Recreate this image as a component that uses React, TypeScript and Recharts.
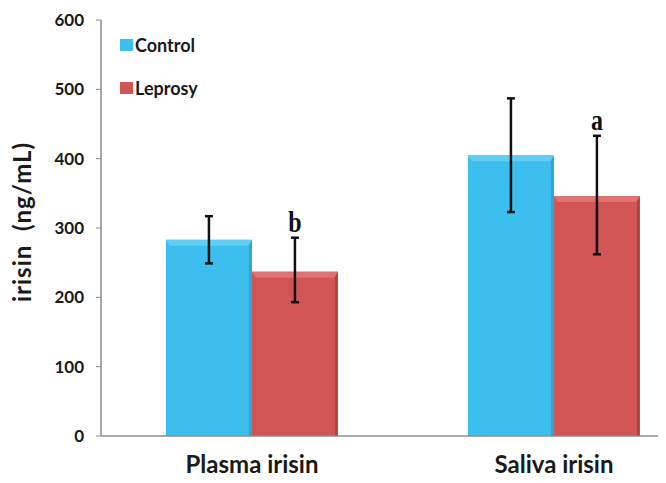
import React from "react";
import { BarChart, Bar, XAxis, YAxis, ErrorBar, Legend, LabelList } from "recharts";

const categories = ["Plasma irisin", "Saliva irisin"];
const controlValues = [283, 405];
const leprosyValues = [237, 346];
const controlErr: [number, number][] = [[34, 34], [82, 82]];
const leprosyErr: [number, number][] = [[44, 49], [84, 87]];
const sigLetters = ["b", "a"];
const yTicks = [0, 100, 200, 300, 400, 500, 600];

const data = categories.map((c, i) => ({
  name: c,
  Control: controlValues[i],
  Leprosy: leprosyValues[i],
  cErr: controlErr[i],
  lErr: leprosyErr[i],
}));

const FONT = "Lato, 'Open Sans', sans-serif";

const makeShape = (main: string, light: string, dark: string) => (props: any) => {
  const { x, y, width, height } = props;
  if (!height || height <= 0) return null;
  const band = 6;
  return (
    <g>
      <rect x={x} y={y} width={width} height={height} fill={main} />
      <polygon
        points={`${x},${y} ${x + width},${y} ${x + width - 4},${y + band} ${x + 4},${y + band}`}
        fill={light}
        opacity={0.8}
      />
      <polygon
        points={`${x + width},${y} ${x + width},${y + height} ${x + width - 3},${y + height} ${x + width - 3},${y + band}`}
        fill={dark}
        opacity={0.8}
      />
    </g>
  );
};

const ControlShape = makeShape("#3CBEEE", "#6FCFF3", "#2A9FCB");
const LeprosyShape = makeShape("#D25555", "#E07B7B", "#A93F3F");

const renderLetter = (props: any) => {
  const { x, y, width, height, value, index } = props;
  if (!value) return null;
  const perUnit = height / value;
  const top = y - leprosyErr[index][1] * perUnit;
  const tx = x + width / 2;
  const ty = top - 6;
  return (
    <text
      x={tx}
      y={ty}
      transform={`translate(${tx}, ${ty}) scale(1, 1.2) translate(${-tx}, ${-ty})`}
      textAnchor="middle"
      fontFamily="'Liberation Serif', 'Times New Roman', serif"
      fontWeight="bold"
      fontSize={24}
      fill="#111"
    >
      {sigLetters[index]}
    </text>
  );
};

const renderLegend = () => (
  <div style={{ fontFamily: FONT, fontWeight: 700, fontSize: 18, color: "#1a1a1a" }}>
    {[
      { label: "Control", color: "#3CBEEE" },
      { label: "Leprosy", color: "#D25555" },
    ].map((it, i) => (
      <div key={it.label} style={{ display: "flex", alignItems: "center", height: 22, marginBottom: i === 0 ? 21 : 0 }}>
        <span style={{ display: "inline-block", width: 13, height: 12, background: it.color, marginRight: 2 }} />
        <span>{it.label}</span>
      </div>
    ))}
  </div>
);

const renderYLabel = (props: any) => {
  const vb = props.viewBox || { x: 0, y: 0, width: 0, height: 0 };
  const cx = 13;
  const cy = vb.y + vb.height / 2 - 6;
  return (
    <text
      x={cx}
      y={cy}
      transform={`rotate(-90, ${cx}, ${cy})`}
      textAnchor="middle"
      dominantBaseline="central"
      fontFamily={FONT}
      fontWeight="bold"
      fontSize={24}
      letterSpacing={1}
      fill="#1a1a1a"
      style={{ whiteSpace: "pre" }}
    >
      {"irisin  (ng/mL)"}
    </text>
  );
};

export default function App() {
  return (
    <div style={{ width: 658, height: 475, overflow: "hidden", background: "#fff" }}>
      <BarChart
        width={720}
        height={475}
        data={data}
        margin={{ top: 12, right: 23, left: 0, bottom: 0 }}
        barCategoryGap="21.5%"
        barGap={0}
      >
        <XAxis
          dataKey="name"
          height={47}
          axisLine={{ stroke: "#8c8c8c", strokeWidth: 1.5 }}
          tickLine={false}
          tickSize={0}
          tickMargin={20}
          tick={{ fontFamily: FONT, fontWeight: 700, fontSize: 24, fill: "#1a1a1a" }}
        />
        <YAxis
          width={93}
          domain={[0, 600]}
          ticks={yTicks}
          interval={0}
          axisLine={{ stroke: "#8c8c8c", strokeWidth: 1.5 }}
          tickLine={{ stroke: "#8c8c8c" }}
          tickSize={5}
          tickMargin={12}
          tick={{ fontFamily: FONT, fontWeight: 700, fontSize: 17, fill: "#1a1a1a" }}
          label={{ content: renderYLabel }}
        />
        <Legend
          verticalAlign="middle"
          align="center"
          layout="horizontal"
          content={renderLegend}
          wrapperStyle={{ left: 112, top: 26, width: 120 }}
        />
        <Bar dataKey="Control" isAnimationActive={false} shape={ControlShape}>
          <ErrorBar dataKey="cErr" width={4} strokeWidth={2.5} stroke="#111" direction="y" isAnimationActive={false} />
        </Bar>
        <Bar dataKey="Leprosy" isAnimationActive={false} shape={LeprosyShape}>
          <ErrorBar dataKey="lErr" width={4} strokeWidth={2.5} stroke="#111" direction="y" isAnimationActive={false} />
          <LabelList dataKey="Leprosy" content={renderLetter} />
        </Bar>
      </BarChart>
    </div>
  );
}
